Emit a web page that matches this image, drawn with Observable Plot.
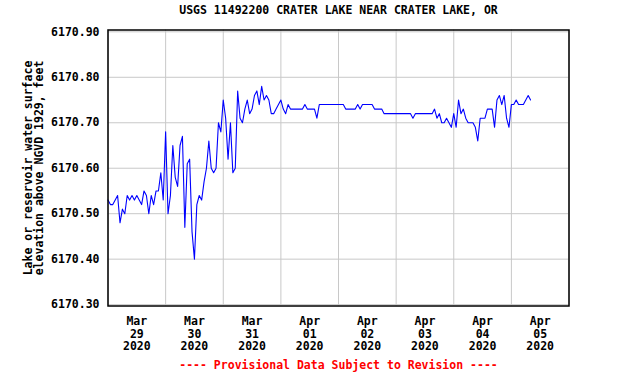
<!DOCTYPE html>
<html>
<head>
<meta charset="utf-8">
<script src="https://cdn.jsdelivr.net/npm/d3@7"></script>
<script src="https://cdn.jsdelivr.net/npm/@observablehq/plot@0.6"></script>
<style>
  html, body { margin: 0; padding: 0; background: #ffffff; }
</style>
</head>
<body>
<div id="chart"></div>
<script>
const title = "USGS 11492200 CRATER LAKE NEAR CRATER LAKE, OR";
const caption = "---- Provisional Data Subject to Revision ----";
const yLabel = "Lake or reservoir water surface\nelevation above NGVD 1929, feet";

// hourly readings starting 2020-03-29 00:00
const startTime = "2020-03-29T00:00:00Z";
const hourlyElevation = [
  6170.53,6170.52,6170.52,6170.53,6170.54,6170.48,6170.51,6170.50,6170.54,6170.53,
  6170.54,6170.53,6170.54,6170.53,6170.52,6170.55,6170.54,6170.50,6170.54,6170.52,
  6170.55,6170.55,6170.59,6170.53,6170.68,6170.50,6170.54,6170.65,6170.58,6170.56,
  6170.65,6170.67,6170.47,6170.61,6170.62,6170.46,6170.40,6170.52,6170.54,6170.53,
  6170.57,6170.60,6170.66,6170.60,6170.59,6170.60,6170.70,6170.68,6170.75,6170.71,
  6170.62,6170.70,6170.59,6170.60,6170.77,6170.71,6170.70,6170.73,6170.75,6170.72,
  6170.73,6170.76,6170.77,6170.74,6170.78,6170.75,6170.76,6170.75,6170.72,6170.72,
  6170.73,6170.74,6170.75,6170.73,6170.72,6170.74,6170.73,6170.73,6170.73,6170.73,
  6170.73,6170.73,6170.74,6170.73,6170.73,6170.73,6170.73,6170.71,6170.74,6170.74,
  6170.74,6170.74,6170.74,6170.74,6170.74,6170.74,6170.74,6170.74,6170.74,6170.73,
  6170.73,6170.73,6170.73,6170.73,6170.74,6170.73,6170.74,6170.74,6170.74,6170.74,
  6170.74,6170.73,6170.73,6170.73,6170.73,6170.72,6170.72,6170.72,6170.72,6170.72,
  6170.72,6170.72,6170.72,6170.72,6170.72,6170.72,6170.72,6170.71,6170.72,6170.72,
  6170.72,6170.72,6170.72,6170.72,6170.72,6170.72,6170.73,6170.71,6170.72,6170.70,
  6170.70,6170.71,6170.70,6170.69,6170.72,6170.69,6170.75,6170.72,6170.73,6170.71,
  6170.70,6170.70,6170.70,6170.69,6170.66,6170.71,6170.71,6170.71,6170.73,6170.73,
  6170.73,6170.69,6170.75,6170.76,6170.74,6170.76,6170.71,6170.69,6170.74,6170.74,
  6170.75,6170.74,6170.74,6170.74,6170.75,6170.76,6170.75
];

const yTicks = [6170.30, 6170.40, 6170.50, 6170.60, 6170.70, 6170.80, 6170.90];
const dayStarts = ["2020-03-29","2020-03-30","2020-03-31","2020-04-01","2020-04-02",
                   "2020-04-03","2020-04-04","2020-04-05","2020-04-06"];
const dayLabelTimes = ["2020-03-29T12:00:00Z","2020-03-30T12:00:00Z","2020-03-31T12:00:00Z",
                       "2020-04-01T12:00:00Z","2020-04-02T12:00:00Z","2020-04-03T12:00:00Z",
                       "2020-04-04T12:00:00Z","2020-04-05T12:00:00Z"];

const t0 = Date.parse(startTime);
const data = hourlyElevation.map((v, i) => ({ time: new Date(t0 + i * 3600e3), value: v }));
const gridDates = dayStarts.map(d => new Date(d + "T00:00:00Z"));
const labelDates = dayLabelTimes.map(d => new Date(d));
const fmt = d3.utcFormat("%b\n%d\n%Y");

const FONT = 11.5;
const chart = Plot.plot({
  width: 619,
  height: 381,
  marginTop: 29.5,
  marginBottom: 75.5,
  marginLeft: 107.5,
  marginRight: 50.5,
  style: { fontFamily: "'DejaVu Sans Mono', monospace", fontSize: FONT + "px", fontWeight: "bold", background: "#ffffff", color: "#000" },
  x: { type: "utc", domain: [gridDates[0], gridDates[gridDates.length - 1]] },
  y: { domain: [6170.297, 6170.904] },
  marks: [
    Plot.gridX(gridDates, { stroke: "#c8c8c8", strokeOpacity: 1, strokeWidth: 1 }),
    Plot.gridY(yTicks, { stroke: "#c8c8c8", strokeOpacity: 1, strokeWidth: 1 }),
    Plot.axisY(yTicks, { tickSize: 0, tickPadding: 8.5, tickFormat: d => d.toFixed(2), label: null, fontSize: FONT, fontWeight: "bold", fill: "#000" }),
    Plot.axisX(labelDates, { tickSize: 0, tickPadding: 10, tickFormat: d => fmt(d), label: null, lineHeight: 1.1, fontSize: FONT, fontWeight: "bold", fill: "#000" }),
    Plot.line(data, { x: "time", y: "value", stroke: "#0000ff", strokeWidth: 1.1 }),
    Plot.frame({ stroke: "#000", strokeWidth: 1.5 }),
    Plot.text([title], { frameAnchor: "top", lineAnchor: "middle", dy: -19.5, fontSize: FONT, fontWeight: "bold", fill: "#000" }),
    Plot.text([caption], { frameAnchor: "bottom", lineAnchor: "middle", dy: 59.5, fontSize: FONT, fontWeight: "bold", fill: "#ff0000" }),
    Plot.text([yLabel], { frameAnchor: "left", textAnchor: "middle", lineAnchor: "middle", dx: -74, rotate: -90, lineHeight: 0.96, fontSize: FONT, fontWeight: "bold", fill: "#000" })
  ]
});
document.getElementById("chart").appendChild(chart);
</script>
</body>
</html>
